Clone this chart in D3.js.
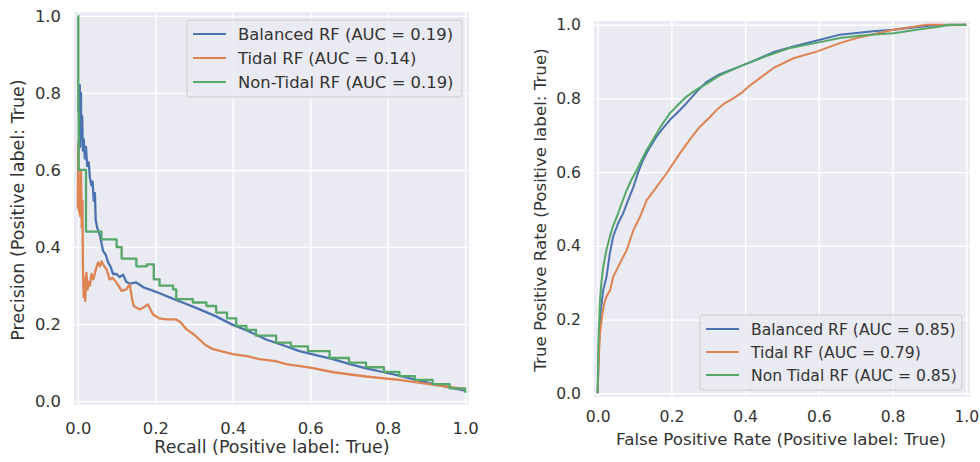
<!DOCTYPE html>
<html>
<head>
<meta charset="utf-8">
<script src="https://cdn.jsdelivr.net/npm/d3@7"></script>
<style>
  body { margin: 0; background: #fff; }
  text { font-family: "DejaVu Sans", sans-serif; fill: #333; }
</style>
</head>
<body>
<div id="chart"></div>
<script>
const width = 980;
const height = 462;

const ticks = [0, 0.2, 0.4, 0.6, 0.8, 1.0];
const seriesColors = ["#4C72B0", "#DD8452", "#55A868"];

// Precision-recall curves: [recall, precision]
const prBalanced = [
    [0.003, 0.75], [0.005, 0.82], [0.006, 0.66], [0.008, 0.80], [0.009, 0.68], [0.011, 0.74],
    [0.013, 0.65], [0.015, 0.68], [0.018, 0.63], [0.021, 0.66], [0.024, 0.61], [0.028, 0.62],
    [0.031, 0.58], [0.035, 0.56], [0.038, 0.57], [0.041, 0.52], [0.044, 0.54], [0.046, 0.47],
    [0.05, 0.45], [0.057, 0.43], [0.065, 0.39], [0.072, 0.38], [0.078, 0.36], [0.084, 0.35],
    [0.091, 0.33], [0.1, 0.33], [0.108, 0.322], [0.117, 0.328], [0.125, 0.31], [0.134, 0.305],
    [0.151, 0.308], [0.17, 0.295], [0.19, 0.288], [0.211, 0.28], [0.24, 0.268], [0.28, 0.252],
    [0.31, 0.24], [0.357, 0.22], [0.4, 0.198], [0.435, 0.184], [0.486, 0.16], [0.53, 0.145],
    [0.572, 0.13], [0.62, 0.118], [0.658, 0.109], [0.7, 0.097], [0.744, 0.085], [0.79, 0.075],
    [0.83, 0.066], [0.87, 0.056], [0.916, 0.045], [0.96, 0.036], [1.0, 0.027]
];
const prTidal = [
    [0.0, 0.5], [0.001, 0.67], [0.002, 0.5], [0.006, 0.48], [0.008, 0.6], [0.01, 0.45],
    [0.012, 0.52], [0.013, 0.35], [0.015, 0.27], [0.017, 0.32], [0.019, 0.26], [0.022, 0.333],
    [0.025, 0.29], [0.028, 0.31], [0.031, 0.3], [0.035, 0.33], [0.04, 0.316], [0.046, 0.34],
    [0.052, 0.36], [0.057, 0.35], [0.061, 0.363], [0.068, 0.35], [0.074, 0.342], [0.082, 0.316],
    [0.09, 0.32], [0.1, 0.307], [0.108, 0.295], [0.113, 0.286], [0.125, 0.29], [0.134, 0.303],
    [0.139, 0.27], [0.144, 0.247], [0.16, 0.238], [0.172, 0.245], [0.181, 0.251], [0.194, 0.225],
    [0.21, 0.215], [0.229, 0.212], [0.254, 0.212], [0.265, 0.205], [0.28, 0.187], [0.297, 0.175],
    [0.314, 0.16], [0.33, 0.145], [0.349, 0.135], [0.4, 0.122], [0.44, 0.116], [0.469, 0.109],
    [0.51, 0.104], [0.538, 0.096], [0.6, 0.087], [0.66, 0.075], [0.744, 0.064], [0.83, 0.055],
    [0.916, 0.043], [1.0, 0.031]
];
const prNonTidal = [
    [0.0, 1.0], [0.001, 0.75], [0.002, 0.6], [0.021, 0.44], [0.061, 0.42], [0.1, 0.40],
    [0.113, 0.37], [0.151, 0.35], [0.178, 0.355], [0.196, 0.316], [0.211, 0.30], [0.246, 0.29],
    [0.254, 0.265], [0.297, 0.256], [0.332, 0.247], [0.357, 0.23], [0.385, 0.215], [0.409, 0.195],
    [0.435, 0.185], [0.46, 0.17], [0.512, 0.152], [0.55, 0.142], [0.594, 0.13], [0.65, 0.112],
    [0.7, 0.1], [0.744, 0.088], [0.79, 0.076], [0.83, 0.065], [0.87, 0.055], [0.916, 0.044],
    [0.96, 0.033], [1.0, 0.022]
];

// ROC curves: [false positive rate, true positive rate]
const rocBalanced = [
    [0, 0], [0.003, 0.12], [0.008, 0.22], [0.015, 0.28], [0.024, 0.316], [0.033, 0.38],
    [0.042, 0.425], [0.055, 0.46], [0.069, 0.488], [0.083, 0.525], [0.097, 0.56], [0.11, 0.6],
    [0.124, 0.635], [0.14, 0.665], [0.16, 0.697], [0.178, 0.72], [0.196, 0.742], [0.22, 0.765],
    [0.241, 0.787], [0.27, 0.82], [0.296, 0.845], [0.33, 0.865], [0.386, 0.887], [0.43, 0.905],
    [0.476, 0.925], [0.531, 0.941], [0.603, 0.959], [0.657, 0.973], [0.747, 0.982], [0.802, 0.986],
    [0.9, 0.997], [1, 1]
];
const rocTidal = [
    [0, 0], [0.002, 0.07], [0.006, 0.16], [0.012, 0.21], [0.018, 0.245], [0.025, 0.265],
    [0.034, 0.28], [0.042, 0.316], [0.06, 0.352], [0.079, 0.389], [0.097, 0.443], [0.115, 0.479],
    [0.133, 0.524], [0.16, 0.56], [0.187, 0.597], [0.223, 0.651], [0.255, 0.695], [0.278, 0.724],
    [0.3, 0.745], [0.323, 0.769], [0.345, 0.787], [0.368, 0.8], [0.39, 0.815], [0.413, 0.835],
    [0.44, 0.855], [0.476, 0.882], [0.531, 0.909], [0.594, 0.927], [0.657, 0.95], [0.703, 0.964],
    [0.802, 0.986], [0.893, 1.0], [1, 1]
];
const rocNonTidal = [
    [0, 0], [0.002, 0.14], [0.006, 0.25], [0.01, 0.3], [0.015, 0.343], [0.024, 0.39],
    [0.033, 0.425], [0.042, 0.455], [0.052, 0.479], [0.065, 0.515], [0.079, 0.552], [0.092, 0.58],
    [0.106, 0.606], [0.12, 0.635], [0.133, 0.66], [0.151, 0.69], [0.172, 0.725], [0.196, 0.76],
    [0.22, 0.785], [0.241, 0.805], [0.27, 0.825], [0.296, 0.84], [0.33, 0.862], [0.386, 0.887],
    [0.458, 0.915], [0.522, 0.937], [0.6, 0.952], [0.657, 0.964], [0.73, 0.972], [0.802, 0.977],
    [0.88, 0.988], [0.93, 0.995], [0.95, 1.0], [1, 1]
];

const prLabels = ["Balanced RF (AUC = 0.19)", "Tidal RF (AUC = 0.14)", "Non-Tidal RF (AUC = 0.19)"];
const rocLabels = ["Balanced RF (AUC = 0.85)", "Tidal RF (AUC = 0.79)", "Non Tidal RF (AUC = 0.85)"];

const svg = d3.select("#chart").append("svg")
    .attr("width", width)
    .attr("height", height);

function drawPanel(p) {
    const x = d3.scaleLinear().domain([-0.01, 1.01]).range([p.left, p.right]);
    const y = d3.scaleLinear().domain([-0.01, 1.01]).range([p.bottom, p.top]);
    const g = svg.append("g");

    g.append("rect")
        .attr("x", p.left).attr("y", p.top)
        .attr("width", p.right - p.left).attr("height", p.bottom - p.top)
        .attr("fill", "#EAEAF2");

    // grid
    g.append("g")
        .attr("transform", `translate(0,${p.bottom})`)
        .call(d3.axisBottom(x).tickValues(ticks).tickSize(-(p.bottom - p.top)).tickFormat(""))
        .call((a) => a.select(".domain").remove())
        .call((a) => a.selectAll("line").attr("stroke", "#fff").attr("stroke-width", 1.4));
    g.append("g")
        .attr("transform", `translate(${p.left},0)`)
        .call(d3.axisLeft(y).tickValues(ticks).tickSize(-(p.right - p.left)).tickFormat(""))
        .call((a) => a.select(".domain").remove())
        .call((a) => a.selectAll("line").attr("stroke", "#fff").attr("stroke-width", 1.4));

    // tick labels
    g.append("g")
        .attr("transform", `translate(0,${p.bottom})`)
        .call(d3.axisBottom(x).tickValues(ticks).tickSize(0).tickPadding(p.xPad).tickFormat(d3.format(".1f")))
        .call((a) => a.select(".domain").remove())
        .call((a) => a.selectAll("text").attr("font-size", p.tickSize).attr("fill", "#333")
            .attr("font-family", "DejaVu Sans"));
    g.append("g")
        .attr("transform", `translate(${p.left},0)`)
        .call(d3.axisLeft(y).tickValues(ticks).tickSize(0).tickPadding(p.yPad).tickFormat(d3.format(".1f")))
        .call((a) => a.select(".domain").remove())
        .call((a) => a.selectAll("text").attr("font-size", p.tickSize).attr("fill", "#333")
            .attr("font-family", "DejaVu Sans"));

    // axis labels
    g.append("text")
        .attr("x", p.xLabelX).attr("y", p.xLabelY)
        .attr("text-anchor", "middle")
        .attr("font-size", p.labelSize)
        .text(p.xLabel);
    g.append("text")
        .attr("transform", `translate(${p.yLabelX},${p.yLabelY}) rotate(-90)`)
        .attr("text-anchor", "middle")
        .attr("dominant-baseline", "central")
        .attr("font-size", p.labelSize)
        .text(p.yLabel);

    // curves
    const clip = "clip" + p.id;
    svg.append("clipPath").attr("id", clip).append("rect")
        .attr("x", p.left).attr("y", p.top - 2)
        .attr("width", p.right - p.left).attr("height", p.bottom - p.top + 4);
    p.series.forEach((s, i) => {
        const line = d3.line()
            .x((d) => x(d[0]))
            .y((d) => y(d[1]))
            .curve(s.step ? d3.curveStepAfter : d3.curveLinear);
        g.append("path")
            .datum(s.data)
            .attr("clip-path", `url(#${clip})`)
            .attr("fill", "none")
            .attr("stroke", seriesColors[i])
            .attr("stroke-width", p.lineWidth)
            .attr("stroke-linejoin", "round")
            .attr("d", line);
    });

    // legend
    const lg = g.append("g").attr("transform", `translate(${p.legend.x},${p.legend.y})`);
    lg.append("rect")
        .attr("width", p.legend.w).attr("height", p.legend.h)
        .attr("rx", 3)
        .attr("fill", "#EAEAF2").attr("fill-opacity", 0.8)
        .attr("stroke", "#cccccc").attr("stroke-width", 1);
    p.labels.forEach((t, i) => {
        const cy = p.legend.row0 + i * p.legend.step;
        lg.append("line")
            .attr("x1", 6).attr("x2", 39)
            .attr("y1", cy).attr("y2", cy)
            .attr("stroke", seriesColors[i]).attr("stroke-width", 2);
        lg.append("text")
            .attr("x", 51).attr("y", cy)
            .attr("dy", "0.36em")
            .attr("font-size", p.tickSize)
            .text(t);
    });
}

drawPanel({
    id: "pr",
    left: 74, right: 469, top: 12, bottom: 405,
    tickSize: 16.4, labelSize: 17.5, xPad: 17, yPad: 13, lineWidth: 2.3,
    xLabel: "Recall (Positive label: True)", xLabelX: 272, xLabelY: 453,
    yLabel: "Precision (Positive label: True)", yLabelX: 18, yLabelY: 210,
    series: [{ data: prBalanced }, { data: prTidal }, { data: prNonTidal, step: true }],
    labels: prLabels,
    legend: { x: 187, y: 20, w: 275, h: 77, row0: 14, step: 24 }
});

drawPanel({
    id: "roc",
    left: 594, right: 970, top: 21, bottom: 397,
    tickSize: 15.6, labelSize: 16.7, xPad: 14, yPad: 13, lineWidth: 2,
    xLabel: "False Positive Rate (Positive label: True)", xLabelX: 781, xLabelY: 445,
    yLabel: "True Positive Rate (Positive label: True)", yLabelX: 540, yLabelY: 210,
    series: [{ data: rocBalanced }, { data: rocTidal }, { data: rocNonTidal }],
    labels: rocLabels,
    legend: { x: 700, y: 315, w: 262, h: 75, row0: 14, step: 23 }
});
</script>
</body>
</html>
